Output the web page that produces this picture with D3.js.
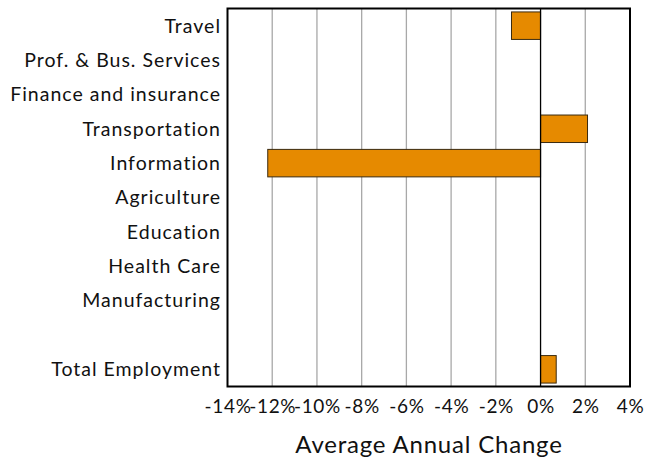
<!DOCTYPE html>
<html><head><meta charset="utf-8">
<script src="https://cdn.jsdelivr.net/npm/d3@7"></script>
<style>body{margin:0;background:#fff}svg{display:block}text{font-family:Lato,sans-serif;fill:#111}</style>
</head><body><svg id="c" width="650" height="457"></svg>
<script>
const categories = ["Travel","Prof. & Bus. Services","Finance and insurance","Transportation","Information","Agriculture","Education","Health Care","Manufacturing","","Total Employment"];
const values = [-1.3, null, null, 2.1, -12.2, null, null, null, null, null, 0.7];
const tickValues = [-14,-12,-10,-8,-6,-4,-2,0,2,4];
const tickLabels = ["-14%","-12%","-10%","-8%","-6%","-4%","-2%","0%","2%","4%"];
const axisTitle = "Average Annual Change";

const svg = d3.select("#c");
const m = {l:227.5, r:630, t:8.5, b:386.5};
const x = d3.scaleLinear().domain([-14,4]).range([m.l, m.r]);
const y = d3.scaleBand().domain(categories.map((c,i)=>i)).range([m.t, m.b]).paddingInner(0.2).paddingOuter(0.1);

svg.append("g").selectAll("line").data(tickValues.filter(v=>v!==-14&&v!==4&&v!==0)).join("line")
  .attr("x1",d=>x(d)).attr("x2",d=>x(d)).attr("y1",m.t).attr("y2",m.b)
  .attr("stroke","#a8a8a8").attr("stroke-width",1.3);

const data = categories.map((c,i)=>({i,c,v:values[i]})).filter(d=>d.v!=null);
svg.append("g").selectAll("rect").data(data).join("rect")
  .attr("x",d=>x(Math.min(0,d.v))).attr("width",d=>Math.abs(x(d.v)-x(0)))
  .attr("y",d=>y(d.i)).attr("height",y.bandwidth())
  .attr("fill","#e68a00").attr("stroke","#3a2a10").attr("stroke-width",1);

svg.append("line").attr("x1",x(0)).attr("x2",x(0)).attr("y1",m.t).attr("y2",m.b).attr("stroke","#000").attr("stroke-width",1.3);

svg.append("rect").attr("x",m.l).attr("y",m.t).attr("width",m.r-m.l).attr("height",m.b-m.t)
  .attr("fill","none").attr("stroke","#000").attr("stroke-width",2);

svg.append("g").selectAll("text").data(categories).join("text")
  .attr("x",221).attr("y",(d,i)=>y(i)+y.bandwidth()/2).attr("dy","0.35em")
  .attr("text-anchor","end").attr("font-size",19.5).attr("letter-spacing","1px").text(d=>d);

const xAxis = d3.axisBottom(x).tickValues(tickValues).tickFormat((d,i)=>tickLabels[i]).tickSize(0).tickPadding(13);
const ga = svg.append("g").attr("transform",`translate(0,${m.b})`).call(xAxis);
ga.select(".domain").remove();
ga.selectAll("text").attr("font-size",19).attr("letter-spacing","0.7px").attr("font-family","Lato, sans-serif").attr("fill","#111");

svg.append("text").attr("x",429).attr("y",453).attr("text-anchor","middle").attr("font-size",24).attr("letter-spacing","0.8px").text(axisTitle);
</script></body></html>
